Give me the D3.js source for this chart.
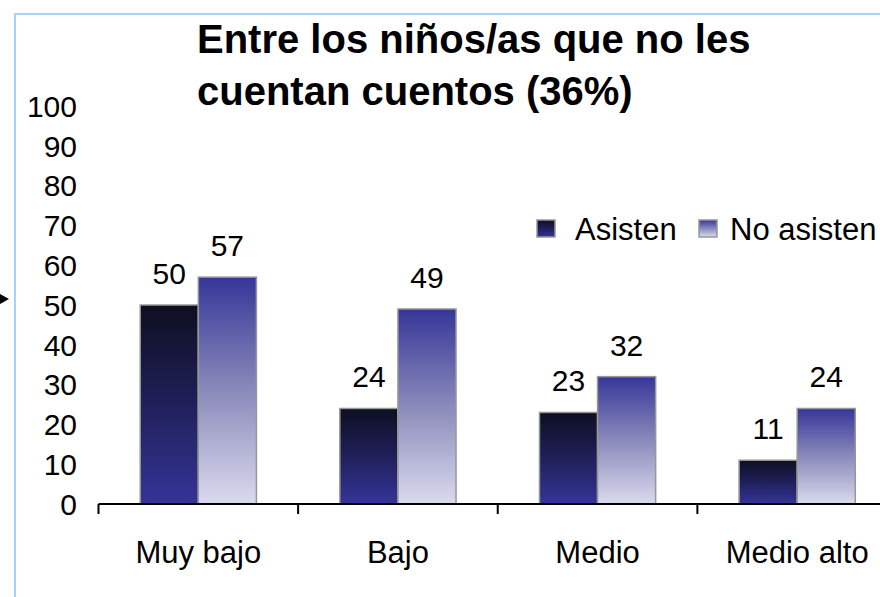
<!DOCTYPE html>
<html><head><meta charset="utf-8">
<script src="https://cdn.jsdelivr.net/npm/d3@7"></script>
<style>body{margin:0;background:#fff}svg{display:block;font-family:"Liberation Sans",Arial,sans-serif}</style>
</head><body><svg id="c" width="880" height="597"></svg>
<script>
const categories = ["Muy bajo","Bajo","Medio","Medio alto"];
const seriesNames = ["Asisten","No asisten"];
const asisten = [50,24,23,11];
const noAsisten = [57,49,32,24];
const yTicks = [0,10,20,30,40,50,60,70,80,90,100];
const titleLines = ["Entre los niños/as que no les","cuentan cuentos (36%)"];

const svg = d3.select("#c");
const defs = svg.append("defs");
function grad(id, stops){
  const g = defs.append("linearGradient").attr("id",id).attr("x1",0).attr("y1",0).attr("x2",0).attr("y2",1);
  stops.forEach(s=>g.append("stop").attr("offset",s[0]).attr("stop-color",s[1]));
}
grad("g0",[[0,"#0e0e22"],[0.5,"#20205a"],[1,"#343499"]]);
grad("g1",[[0,"#363699"],[0.5,"#8a8abb"],[1,"#dadaee"]]);
const fills = ["url(#g0)","url(#g1)"];

// frame
svg.append("path").attr("d","M15,597V14H880").attr("fill","none").attr("stroke","#a6d2ff").attr("stroke-width",2);

const y = d3.scaleLinear().domain([0,100]).range([504,106]);
const x0 = d3.scaleBand().domain(categories).range([98.5,897]).paddingInner(0.418).paddingOuter(0.209);
const x1 = d3.scaleBand().domain(seriesNames).range([0,x0.bandwidth()]);

// title
const t = svg.append("text").attr("x",197).attr("font-weight","bold").attr("font-size",40).attr("fill","#000");
const titleY = [53,105];
titleLines.forEach((l,i)=>t.append("tspan").attr("x",197).attr("y",titleY[i]).text(l));

// y labels
svg.append("g").selectAll("text").data(yTicks).join("text")
  .attr("x",77).attr("y",d=>y(d)).attr("dy","0.36em").attr("text-anchor","end")
  .attr("font-size",30).text(d=>d);

// bars
const data = categories.map((c,i)=>({c, vals:[asisten[i],noAsisten[i]]}));
const g = svg.append("g");
data.forEach(d=>{
  d.vals.forEach((v,j)=>{
    const xx = x0(d.c)+x1(seriesNames[j]);
    g.append("rect").attr("x",xx).attr("y",y(v)).attr("width",x1.bandwidth()).attr("height",y(0)-y(v))
      .attr("fill",fills[j]).attr("stroke","#979797").attr("stroke-width",1.5);
    g.append("text").attr("x",xx+x1.bandwidth()/2).attr("y",y(v)-21).attr("text-anchor","middle")
      .attr("font-size",30).text(v);
  });
});

// x axis
const ax = svg.append("g").attr("transform","translate(0,504)");
ax.append("line").attr("x1",98.5).attr("x2",880).attr("stroke","#000").attr("stroke-width",2);
const step = x0.step();
const tickPos = categories.map((c,i)=>98.5+i*step);
ax.selectAll("line.tk").data(tickPos).join("line").attr("class","tk")
  .attr("x1",d=>d).attr("x2",d=>d).attr("y1",0).attr("y2",10).attr("stroke","#000").attr("stroke-width",2);
ax.selectAll("text").data(categories).join("text")
  .attr("x",d=>x0(d)+x0.bandwidth()/2).attr("y",59).attr("text-anchor","middle")
  .attr("font-size",31).text(d=>d);

// legend
const lg = svg.append("g");
const legX = [537,699], legT=[575,730];
seriesNames.forEach((s,j)=>{
  lg.append("rect").attr("x",legX[j]).attr("y",220).attr("width",18).attr("height",17)
    .attr("fill",fills[j]).attr("stroke","#979797").attr("stroke-width",1.5);
  lg.append("text").attr("x",legT[j]).attr("y",240).attr("font-size",31).text(s);
});

// small arrow marker on left
svg.append("path").attr("d","M0,294L9,299L0,304Z").attr("fill","#000");
</script></body></html>
